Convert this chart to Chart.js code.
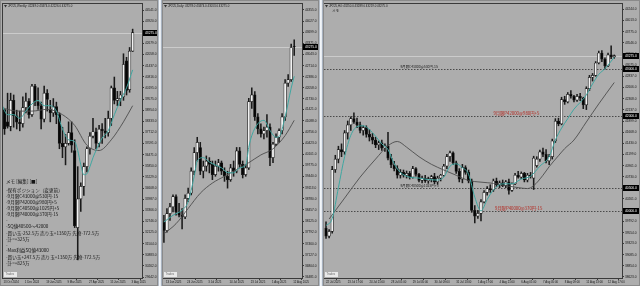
<!DOCTYPE html>
<html><head><meta charset="utf-8">
<script src="https://cdn.jsdelivr.net/npm/chart.js@4.4.0/dist/chart.umd.min.js"></script>
<style>
html,body{margin:0;padding:0;background:#adadad;width:640px;height:286px;overflow:hidden;}
.panel{position:absolute;top:0;height:286px;background:#adadad;}
.sep{position:absolute;top:0;height:286px;background:linear-gradient(to right,#7f8a99,#e6ecf3,#ffffff,#cfd9e5,#7f8a99);}
canvas{display:block;}
</style></head><body>
<div class="panel" style="left:0;width:158px"><canvas id="c1" width="158" height="286"></canvas></div>
<div class="sep" style="left:158px;width:4px"></div>
<div class="panel" style="left:162px;width:157px"><canvas id="c2" width="157" height="286"></canvas></div>
<div class="sep" style="left:319px;width:4px"></div>
<div class="panel" style="left:323px;width:317px"><canvas id="c3" width="317" height="286"></canvas></div>
<script>
// ---------------- WEEKLY ----------------
const weeklyXLabels = ['13 Oct 2024','1 Dec 2024','19 Jan 2025','9 Mar 2025','27 Apr 2025','15 Jun 2025','3 Aug 2025'];
const weeklyXIdx = [0,7,14,21,28,35,42];
const weeklyOHLC = [
[39600,40200,38800,38980],[38980,39000,37600,37900],[38300,39900,37950,38050],[38050,39900,37800,39500],
[39500,39800,38000,38640],[38640,38950,37900,38280],[38280,38900,37800,38200],[38200,39700,38000,39100],
[39100,39900,38800,39450],[39450,39600,38500,38700],[38700,40400,38600,40300],[40300,40400,39200,39400],
[39400,40200,39000,39200],[39200,39400,37900,38450],[38450,40300,38300,39900],[39900,40100,38900,39550],
[39000,39500,38300,38800],[38800,39600,38600,39150],[39150,39400,38200,38700],[38700,38800,36800,37100],
[37100,38000,36300,36900],[36900,37600,35900,37100],[37100,38300,37000,37700],[37700,38300,36600,37000],
[36700,37300,32400,32500],[32400,35800,30600,34000],[34000,34900,33300,34700],[34700,36000,34200,35800],
[35800,36900,35500,36800],[36800,37700,36500,37500],[37500,38500,37400,37750],[37750,37950,36800,37100],
[37100,38100,36900,37900],[37900,38200,37100,37800],[37800,38500,37400,37700],[37700,38900,37500,38500],
[38500,40300,38100,40200],[40200,40800,39300,39500],[39500,40000,39200,39600],[39600,40000,39200,39800],
[39700,42100,39500,41500],[41700,41900,39800,40050],[40100,42450,39950,42250],[42249,43474,42226,43275]];
const weeklyFastMA = [[0,39300],[2,38700],[4,38700],[6,38500],[8,38900],[10,39300],[12,39500],[14,39200],[16,39200],[18,38900],[20,37900],[22,37300],[24,37200],[25,36700],[26,35900],[27,35350],[28,35400],[29,35800],[30,36300],[31,36700],[33,37400],[35,37800],[37,38700],[39,39500],[41,40200],[43,41200]];
const weeklySlowMA = [[0,39100],[5,38900],[10,38900],[15,39000],[20,38700],[24,38100],[28,37000],[32,36700],[36,37300],[40,38300],[43,39200]];
const weeklyYTicks = [44541,43920,43299,42679,42058,41437,40816,40195,39575,38954,38333,37712,37091,36471,35850,35229,34608,33987,33366,32746,32125,31504,30883,30262,29642];

// ---------------- DAILY ----------------
const dailyXLabels = ['13 Jun 2025','24 Jun 2025','3 Jul 2025','14 Jul 2025','23 Jul 2025','1 Aug 2025','12 Aug 2025'];
const dailyXIdx = [0,7,14,21,28,35,42];
const dailyOHLC = [
[38100,38300,37500,37850],[37850,38500,37800,38350],[38350,38650,38150,38550],[38550,38900,38400,38850],
[38850,38900,38300,38400],[38400,38650,38250,38300],[38300,38500,37900,38250],[38250,38900,38200,38800],
[38800,39100,38700,38950],[38950,39700,38900,39600],[39600,40300,39500,40150],[40150,40600,39900,40450],
[40300,40450,39500,39600],[39600,39900,39400,39750],[39750,40050,39600,39900],[39900,40000,39550,39800],
[39800,39900,39350,39500],[39500,39900,39450,39750],[39750,39950,39600,39850],[39850,39900,39500,39600],
[39600,39700,39300,39450],[39450,39600,39100,39350],[39350,39800,39300,39700],[39700,39900,39450,39600],
[39600,40300,39550,40200],[40200,40300,39700,39800],[39800,39900,39400,39500],[39500,39800,39450,39700],
[39700,41750,39650,41650],[41650,42060,41450,41850],[41850,41950,41100,41200],[41200,41300,40700,40850],
[40850,41000,40600,40700],[40700,40900,40550,40800],[40800,41270,40600,40900],[40900,41000,39760,40000],
[40000,40450,39850,40400],[40400,40700,40350,40600],[40600,40850,40450,40800],[40800,41300,40700,41200],
[41200,42300,41100,42200],[42200,42450,42100,42300],[42300,43350,42250,43250],[43278,43474,43013,43275]];
const dailyFastMA = [[0,38100],[3,38300],[6,38450],[8,38700],[10,39450],[11,39900],[13,40000],[15,39870],[17,39780],[19,39700],[21,39560],[23,39550],[25,39700],[27,39780],[28,40300],[29,40650],[31,41000],[33,41100],[35,40800],[37,40600],[38,40620],[40,41200],[42,42050],[43,42400]];
const dailySlowMA = [[0,37750],[4,38050],[8,38500],[12,38950],[16,39250],[20,39450],[24,39650],[28,39850],[32,40080],[36,40260],[40,40650],[43,41100]];
const dailyYTicks = [44355,44027,43699,43371,43043,42714,42386,42058,41730,41421,41088,40756,40423,40101,39775,39440,39113,38780,38457,38125,37792,37460,37127,36804,36481];

// ---------------- H4 ----------------
const h4XLabels = ['22 Jul 2025','23 Jul 17:00','24 Jul 21:00','28 Jul 01:00','29 Jul 05:00','30 Jul 09:00','31 Jul 13:00','1 Aug 17:00','4 Aug 21:00','6 Aug 01:00','7 Aug 05:00','8 Aug 09:00','11 Aug 13:00','12 Aug 17:00'];
const h4XIdx = [0,7,14,21,28,35,42,49,56,63,70,77,84,91];
const h4OHLC = [
[39650,39780,39430,39480],[39480,39620,39440,39580],[39580,40950,39540,40880],[40880,41180,40820,41100],
[41100,41370,41020,41300],[41300,41420,41150,41250],[41250,41700,41200,41650],[41650,41900,41520,41820],
[41820,41990,41700,41950],[41950,42070,41850,41880],[41880,41960,41760,41820],[41820,41880,41650,41700],
[41700,41800,41600,41760],[41760,41800,41560,41620],[41620,41720,41480,41560],[41560,41640,41420,41500],
[41500,41560,41340,41400],[41400,41480,41300,41440],[41440,41500,41280,41330],[41330,41420,41260,41380],
[41380,41660,41080,41120],[41120,41200,40920,40980],[40980,41050,40850,40900],[40900,40960,40700,40760],
[40760,40880,40700,40820],[40820,40870,40720,40760],[40760,40850,40700,40800],[40800,40840,40680,40720],
[40720,40950,40700,40900],[40900,40920,40740,40780],[40780,40800,40620,40650],[40650,40740,40600,40700],
[40700,40760,40610,40640],[40640,40720,40590,40690],[40690,40760,40620,40730],[40730,40800,40580,40620],
[40620,40740,40570,40700],[40700,40780,40640,40760],[40760,40990,40740,40950],[40950,41200,40900,41150],
[41150,41270,41050,41230],[41230,41250,40980,41020],[41020,41060,40800,40840],[40840,40900,40620,40680],
[40680,40990,40600,40920],[40920,40960,40780,40820],[40820,40870,40600,40640],[40640,40680,39980,40020],
[40020,40120,39760,39900],[39900,40020,39850,39960],[39960,40250,39800,40200],[40200,40440,40180,40400],
[40400,40520,40340,40480],[40480,40560,40400,40450],[40450,40680,40420,40640],[40640,40700,40520,40560],
[40560,40640,40500,40600],[40600,40660,40520,40540],[40540,40650,40500,40620],[40620,40680,40360,40440],
[40440,40600,40420,40580],[40580,40800,40560,40760],[40760,40840,40700,40720],[40720,40830,40690,40800],
[40800,40820,40620,40660],[40660,40800,40620,40760],[40760,40820,40700,40740],[40700,41160,40460,41120],
[40960,41150,40930,41100],[41100,41290,41050,41250],[41250,41330,41150,41200],[41200,41300,41020,41060],
[41060,41200,40980,41150],[41150,41520,41100,41480],[41480,41950,41450,41900],[41900,41960,41800,41840],
[41840,42400,41820,42350],[42350,42420,42250,42300],[42300,42500,42280,42460],[42460,42540,42380,42420],
[42420,42440,42300,42340],[42340,42460,42310,42420],[42420,42480,42330,42380],[42380,42400,42160,42240],
[42240,42620,42140,42580],[42580,42860,42540,42820],[42820,42900,42740,42860],[42860,43150,42840,43120],
[43120,43370,43100,43330],[43330,43380,43150,43200],[43200,43230,42990,43060],[43060,43330,43040,43290],
[43290,43480,43210,43250],[43250,43289,43219,43275]];
const h4FastMA = [[0,39700],[2,39850],[4,40500],[6,41150],[8,41600],[10,41780],[12,41800],[14,41720],[16,41580],[18,41420],[20,41300],[22,41000],[24,40820],[27,40720],[30,40700],[33,40670],[36,40660],[38,40720],[40,40950],[42,41000],[44,40920],[46,40780],[48,40300],[50,40010],[52,40250],[54,40450],[57,40580],[60,40580],[63,40680],[66,40740],[69,40950],[72,41150],[74,41500],[76,41750],[78,41950],[80,42150],[82,42290],[84,42450],[86,42680],[88,42880],[90,43000],[93,43240]];
const h4SlowMA = [[1,39840],[6,40280],[11,40720],[16,41100],[20,41380],[23,41470],[26,41350],[30,41150],[34,40990],[38,40870],[42,40760],[46,40650],[50,40615],[54,40590],[58,40540],[62,40500],[65,40480],[67,40540],[70,40760],[72,40940],[75,41170],[77,41320],[80,41500],[84,41880],[88,42260],[93,42710]];
const h4YTicks = [44244,44013,43775,43546,43306,43075,42837,42606,42368,42137,41899,41668,41430,41199,40961,40730,40492,40261,40023,39792,39554,39323,39085,38854,38623];
const h4Levels = [
  {value:43000, text:'9月限C43000@530円-15', at:24, color:'#1e1e1e', size:3.4},
  {value:42000, text:'9月限P42000@980円+5', at:54, color:'#b3261e', size:4.3},
  {value:40500, text:'9月限C40500@1025円+5', at:24, color:'#1e1e1e', size:3.4},
  {value:40000, text:'9月限P40000@370円-15', at:54.5, color:'#b3261e', size:4.3}
];
const memoLines = ['メモ [編集] [■]','-保有ポジション（変更前）','-9月限C43000@530円-15','-9月限P42000@980円+5','-9月限C40500@1025円+5','-9月限P40000@370円-15','-','-SQ値40500～42000','-買い玉-252.5万 売り玉+1350万 先物-772.5万','-計=+325万','-','-Max利益SQ値43000','-買い玉+247.5万 売り玉+1350万 先物-772.5万','-計=+825万'];
const currentPrice = 43275;

const NUMFONT = '"Liberation Sans", Arial, sans-serif';
const JPFONT = '"Noto Sans CJK JP", sans-serif';

function makePanel(id, p){
  const rows = p.rows;
  const wick = rows.map((r,i)=>({x:i, y:[r[2], r[1]]}));
  const body = rows.map((r,i)=>({x:i, y:[r[0], r[3]]}));
  const fills = rows.map(r => r[3] >= r[0] ? '#f2f2f2' : '#050505');
  const overlay = {
    id: 'ov' + id,
    beforeDatasetsDraw(chart){
      const {ctx, chartArea:a, scales:{x, y}} = chart;
      ctx.save();
      const cy = Math.round(y.getPixelForValue(currentPrice)) + 0.5;
      ctx.strokeStyle = '#cbcbcb'; ctx.lineWidth = 1;
      ctx.beginPath(); ctx.moveTo(a.left, cy); ctx.lineTo(a.right, cy); ctx.stroke();
      (p.levels || []).forEach(l => {
        const ly = Math.round(y.getPixelForValue(l.value)) + 0.5;
        ctx.setLineDash([1.5, 1.5]); ctx.strokeStyle = '#4a4a4a';
        ctx.beginPath(); ctx.moveTo(a.left, ly); ctx.lineTo(a.right, ly); ctx.stroke();
        ctx.setLineDash([]);
        ctx.font = l.size + 'px ' + JPFONT; ctx.fillStyle = l.color;
        ctx.textBaseline = 'bottom'; ctx.textAlign = 'left';
        ctx.fillText(l.text, x.getPixelForValue(l.at), ly - 1);
      });
      ctx.restore();
    },
    afterDraw(chart){
      const {ctx, chartArea:a, scales:{y}} = chart;
      const W = chart.width, H = chart.height;
      ctx.save();
      ctx.strokeStyle = '#3a3a3a'; ctx.lineWidth = 1;
      ctx.strokeRect(a.left - 0.5, a.top - 0.5, a.right - a.left + 1, a.bottom - a.top + 1);
      ctx.strokeStyle = '#8a8a8a';
      ctx.strokeRect(0.5, 0.5, W - 1, H - 1);
      const boxes = [currentPrice].concat((p.levels || []).map(l => l.value));
      boxes.forEach(v => {
        const py = y.getPixelForValue(v);
        ctx.fillStyle = '#000';
        ctx.fillRect(a.right + 1, Math.round(py) - 3, W - a.right - 2, 6);
        ctx.fillStyle = '#fff'; ctx.font = '3.3px ' + NUMFONT;
        ctx.textBaseline = 'middle'; ctx.textAlign = 'left';
        ctx.fillText(v.toFixed(1), a.right + 3, Math.round(py) + 0.3);
      });
      ctx.fillStyle = '#333';
      ctx.beginPath(); ctx.moveTo(a.left + 1, a.top + 1); ctx.lineTo(a.left + 4, a.top + 1); ctx.lineTo(a.left + 2.5, a.top + 3.5); ctx.closePath(); ctx.fill();
      ctx.fillStyle = '#1a1a1a'; ctx.font = '2.9px ' + NUMFONT; ctx.textBaseline = 'middle'; ctx.textAlign = 'left';
      ctx.fillText(p.title, a.left + 5, a.top + 2.5);
      ctx.fillStyle = '#e9e9e9';
      ctx.fillRect(a.left + 1, a.bottom - 6, 13, 5);
      ctx.fillStyle = '#666'; ctx.font = '2.8px ' + NUMFONT;
      ctx.fillText('Trades', a.left + 2.5, a.bottom - 3.5);
      (p.texts || []).forEach(t => {
        ctx.fillStyle = '#151515'; ctx.font = t.size + 'px ' + JPFONT;
        ctx.textBaseline = 'middle';
        ctx.fillText(t.text, t.x, t.y);
      });
      ctx.restore();
    }
  };
  const axisFont = {size: 3.2, family: NUMFONT};
  return new Chart(document.getElementById(id), {
    type: 'bar',
    data: {datasets: [
      {type:'line', data: p.fast.map(q => ({x:q[0], y:q[1]})), borderColor:'#3fa7a1', borderWidth:1, pointRadius:0, cubicInterpolationMode:'monotone', order:0},
      {type:'line', data: p.slow.map(q => ({x:q[0], y:q[1]})), borderColor:'#4d4d4d', borderWidth:0.9, pointRadius:0, cubicInterpolationMode:'monotone', order:0},
      {type:'bar', data: body, backgroundColor: fills, borderColor:'#1a1a1a', borderWidth:0.7, borderSkipped:false, barThickness:2.6, grouped:false, order:1},
      {type:'bar', data: wick, backgroundColor:'#1a1a1a', barThickness:0.9, grouped:false, order:2}
    ]},
    options: {
      responsive:false, animation:false, devicePixelRatio:1,
      layout:{padding:{left:p.padLeft, top:4, right:0, bottom:0}},
      plugins:{legend:{display:false}, tooltip:{enabled:false}},
      scales:{
        x:{type:'linear', min:p.xmin, max:p.xmax, offset:false,
          afterBuildTicks: s => { s.ticks = p.xIdx.map(v => ({value:v})); },
          afterFit: s => { s.height = 8; s.paddingLeft = 0; s.paddingRight = 0; },
          ticks:{autoSkip:false, maxRotation:0, minRotation:0, align:'start', labelOffset:p.labelOffset, padding:0.5, font:{size:2.8, family:NUMFONT}, color:'#151515',
            callback:(v, i) => p.xLabels[i]},
          grid:{drawOnChartArea:false, drawTicks:true, tickLength:2, color:'#3a3a3a'},
          border:{display:true, color:'#3a3a3a'}},
        y:{type:'linear', position:'right', min:p.ymin, max:p.ymax,
          afterBuildTicks: s => { s.ticks = p.yTicks.map(v => ({value:v})); },
          afterFit: s => { s.width = p.yW; s.paddingTop = 0; s.paddingBottom = 0; },
          ticks:{autoSkip:false, padding:1, font:axisFont, color:'#151515', callback: v => Number(v).toFixed(1)},
          grid:{drawOnChartArea:false, drawTicks:true, tickLength:2, color:'#3a3a3a'},
          border:{display:true, color:'#3a3a3a'}}
      }
    },
    plugins:[overlay]
  });
}

makePanel('c1', {rows:weeklyOHLC, fast:weeklyFastMA, slow:weeklySlowMA, xLabels:weeklyXLabels, xIdx:weeklyXIdx,
  yTicks:weeklyYTicks, xmin:0.5, xmax:46.07, ymin:29587, ymax:44876, padLeft:3, yW:16, labelOffset:2,
  title:'JP225,Weekly: 42249.0 43474.0 42226.0 43275.0',
  texts: memoLines.map((t, i) => ({text:t, x:6, y:[181.7,190,196.7,202.7,208.3,214.3,220.7,226.7,233.3,239.3,245,250.7,257.3,263.3][i], size:4.6}))});
makePanel('c2', {rows:dailyOHLC, fast:dailyFastMA, slow:dailySlowMA, xLabels:dailyXLabels, xIdx:dailyXIdx,
  yTicks:dailyYTicks, xmin:-0.3, xmax:45.57, ymin:36449, ymax:44532, padLeft:1, yW:17, labelOffset:2,
  title:'JP225,Daily: 43278.0 43474.0 43013.0 43275.0'});
makePanel('c3', {rows:h4OHLC, fast:h4FastMA, slow:h4SlowMA, xLabels:h4XLabels, xIdx:h4XIdx,
  yTicks:h4YTicks, xmin:-0.65, xmax:95.5, ymin:38600, ymax:44360, padLeft:1, yW:18, labelOffset:0,
  title:'JP225,H4: 43250.0 43289.0 43219.0 43275.0', levels:h4Levels,
  texts:[{text:'メモ', x:9, y:11, size:3.6}]});
</script>
</body></html>
